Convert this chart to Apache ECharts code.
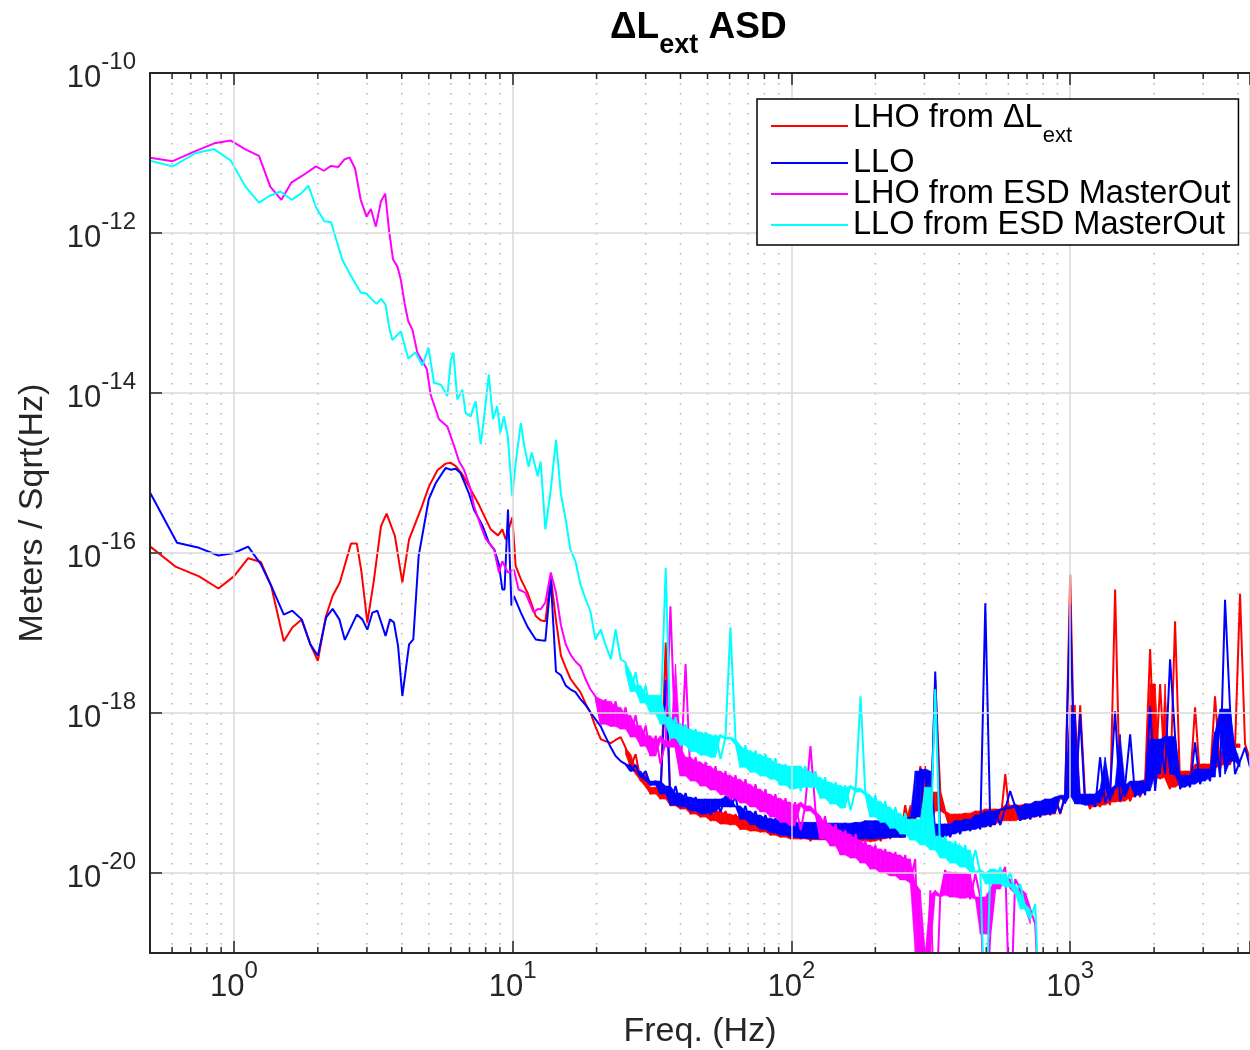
<!DOCTYPE html>
<html><head><meta charset="utf-8">
<script src="https://cdn.jsdelivr.net/npm/echarts@6/dist/echarts.min.js"></script>
<style>html,body{margin:0;padding:0;background:#fff}#c{width:1250px;height:1050px}</style>
</head><body><div id="c"></div>
<script>
const FONT = '"Liberation Sans", Arial, Helvetica, sans-serif';
const X_MIN = 0.5, X_MAX = 4416, Y_MIN = 1e-21, Y_MAX = 1e-10;

const xTickValues = [1, 10, 100, 1000];
const xTickExps = ['0', '1', '2', '3'];
const yTickValues = [1e-20, 1e-18, 1e-16, 1e-14, 1e-12, 1e-10];
const yTickExps = ['-20', '-18', '-16', '-14', '-12', '-10'];
const xMinorValues = [0.6,0.7,0.8,0.9,2,3,4,5,6,7,8,9,20,30,40,50,60,70,80,90,200,300,400,500,600,700,800,900,2000,3000,4000];

const seriesNames = ['LHO from ΔLext', 'LLO', 'LHO from ESD MasterOut', 'LLO from ESD MasterOut'];
const seriesColors = ['#ff0000', '#0000ff', '#ff00ff', '#00ffff'];

const redLow = [[0.5,1.21e-16],[0.62,6.7e-17],[0.75,5.1e-17],[0.88,3.6e-17],[1.0,5.1e-17],[1.125,8.6e-17],[1.25,7.7e-17],[1.36,3.9e-17],[1.51,7.9e-18],[1.62,1.17e-17],[1.75,1.48e-17],[1.88,7.2e-18],[2.0,4.5e-18],[2.14,1.63e-17],[2.26,2.9e-17],[2.4,4.3e-17],[2.63,1.31e-16],[2.76,1.31e-16],[2.87,5.7e-17],[3.01,1.35e-17],[3.17,4.3e-17],[3.37,2.17e-16],[3.53,3.1e-16],[3.78,1.63e-16],[4.02,4.3e-17],[4.25,1.48e-16],[4.68,3.5e-16],[5.01,6.8e-16],[5.37,1.08e-15],[5.75,1.31e-15],[6.0,1.34e-15],[6.25,1.22e-15],[6.6,9.6e-16],[7.07,6.2e-16],[7.57,4.0e-16],[8.34,1.97e-16],[8.86,1.66e-16],[9.18,1.97e-16],[9.44,1.48e-16],[9.97,2.8e-16],[10.25,6.9e-17],[10.7,4.7e-17],[11.3,3.2e-17],[12.1,1.63e-17]];
const blueLow = [[0.5,5.7e-16],[0.625,1.34e-16],[0.75,1.16e-16],[0.88,9.3e-17],[1.0,1.0e-16],[1.125,1.2e-16],[1.25,7.2e-17],[1.36,3.9e-17],[1.51,1.7e-17],[1.62,1.9e-17],[1.75,1.48e-17],[1.88,7.2e-18],[2.0,5.2e-18],[2.14,1.56e-17],[2.26,2.0e-17],[2.39,1.48e-17],[2.5,8.2e-18],[2.76,1.7e-17],[2.89,1.48e-17],[3.01,1.1e-17],[3.14,1.8e-17],[3.27,1.9e-17],[3.5,9.2e-18],[3.63,1.48e-17],[3.75,1.35e-17],[3.88,6.9e-18],[4.02,1.63e-18],[4.25,7.2e-18],[4.4,8.3e-18],[4.6,9.2e-17],[5.0,4.7e-16],[5.3,7.5e-16],[5.75,1.16e-15],[6.0,1.1e-15],[6.25,1.13e-15],[6.5,1.0e-15],[6.95,5.7e-16],[7.26,3.5e-16],[7.79,2.2e-16],[8.22,1.34e-16],[8.6,1.1e-16],[8.93,7.1e-17],[9.18,3.5e-17],[9.35,3.5e-17],[9.62,3.5e-16],[9.9,2.2e-17],[10.1,2.9e-17],[10.7,1.8e-17],[11.3,1.2e-17],[12.1,8.3e-18]];
const magLow = [[0.5,8.7e-12],[0.603,7.9e-12],[0.72,1.04e-11],[0.85,1.32e-11],[0.975,1.43e-11],[1.10,1.11e-11],[1.23,9.2e-12],[1.35,3.8e-12],[1.48,2.6e-12],[1.61,4.3e-12],[1.76,5.2e-12],[1.97,6.8e-12],[2.10,6.0e-12],[2.23,6.9e-12],[2.37,6.7e-12],[2.49,8.3e-12],[2.60,8.8e-12],[2.72,6.4e-12],[2.85,2.6e-12],[2.99,1.6e-12],[3.10,2.0e-12],[3.23,1.2e-12],[3.37,2.5e-12],[3.49,3.1e-12],[3.6,1.09e-12],[3.72,4.7e-13],[3.86,3.8e-13],[3.97,2.6e-13],[4.1,1.3e-13],[4.22,7.9e-14],[4.37,6.2e-14],[4.55,3.2e-14],[4.92,2.0e-14],[5.08,9.5e-15],[5.44,4.7e-15],[5.83,3.8e-15],[6.16,2.2e-15],[6.42,1.4e-15],[6.69,1.1e-15],[7.07,6.2e-16],[7.26,3.9e-16],[7.68,2.2e-16],[8.0,1.5e-16],[8.57,1.11e-16],[8.93,5.7e-17],[9.18,7.9e-17],[9.6,5.7e-17],[10.1,6.2e-17],[10.5,3.5e-17],[11.1,3.2e-17],[11.9,1.8e-17],[12.3,2.0e-17]];
const cyanLow = [[0.5,8.0e-12],[0.603,6.8e-12],[0.73,1.0e-11],[0.85,1.12e-11],[0.975,8.0e-12],[1.10,3.8e-12],[1.23,2.4e-12],[1.34,2.9e-12],[1.47,3.3e-12],[1.61,2.6e-12],[1.74,3.1e-12],[1.85,3.9e-12],[1.97,2.1e-12],[2.11,1.4e-12],[2.23,1.37e-12],[2.29,1.0e-12],[2.45,4.6e-13],[2.63,2.9e-13],[2.85,1.8e-13],[2.99,1.75e-13],[3.11,1.5e-13],[3.25,1.3e-13],[3.37,1.5e-13],[3.5,1.27e-13],[3.6,6.8e-14],[3.7,4.6e-14],[3.97,5.9e-14],[4.22,2.7e-14],[4.48,3.2e-14],[4.74,2.2e-14],[4.99,3.7e-14],[5.22,1.34e-14],[5.53,1.27e-14],[5.83,9.1e-15],[6.0,2.6e-14],[6.13,3.2e-14],[6.33,8.3e-15],[6.6,1.1e-14],[6.78,5.6e-15],[7.07,5.1e-15],[7.36,7.9e-15],[7.68,2.3e-15],[7.86,4.3e-15],[8.21,1.7e-14],[8.5,4.7e-15],[8.8,6.8e-15],[9.04,3.2e-15],[9.3,5.1e-15],[9.6,2.9e-15],[9.97,5.1e-16],[10.25,1.34e-15],[10.7,4.2e-15],[11.0,2.2e-15],[11.4,1.2e-15],[11.7,1.8e-15],[12.3,9.1e-16]];

const fHi = [12.6,13.1,13.7,14.3,14.9,15.5,16.1,16.8,17.5,18.3,
19.0,19.8,20.7,21.5,22.5,23.4,24.4,25.4,26.5,27.6,
28.8,30.0,31.2,32.6,33.9,35.4,36.8,38.4,40.0,41.7,
43.5,45.3,47.2,49.2,51.3,53.4,55.7,58.0,60.4,63.0,
65.6,68.4,71.3,74.3,77.4,80.7,84.1,87.6,91.3,95.2,
99.2,103,108,112,117,122,127,132,138,144,
150,156,163,170,177,184,192,200,209,217,
226,236,246,256,267,278,290,302,315,328,
342,356,371,387,403,420,438,457,476,496,
517,538,561,585,609,635,662,690,719,749,
781,813,848,883,921,959,1000,1042,1086,1131,
1179,1229,1280,1335,1391,1449,1510,1574,1641,1710,
1782,1857,1935,2017,2102,2190,2282,2378,2479,2583,
2692,2805,2923,3047,3175,3308,3448,3593,3745,3902,
4067,4238,4416];

const redHi = [1.44e-17,1.4e-17,5.1e-17,1.44e-17,5.2e-18,3.7e-18,2.7e-18,2.2e-18,1.82e-18,1.29e-18,
1.02e-18,6.8e-19,4.7e-19,4.45e-19,4.2e-19,4.6e-19,5.0e-19,3.7e-19,2.1e-19,3.06e-19,
1.41e-19,1.72e-19,9.7e-20,1.18e-19,8.4e-20,7.6e-18,6.9e-20,9.7e-20,6.3e-20,8.4e-20,
5.45e-20,7.3e-20,5.0e-20,6.7e-20,4.5e-20,6.3e-20,4.1e-20,5.95e-20,4.0e-20,5.45e-20,
3.5e-20,5.15e-20,3.35e-20,4.7e-20,3.25e-20,4.5e-20,2.97e-20,4.2e-20,2.8e-20,4.1e-20,
2.66e-20,4.0e-20,2.66e-20,3.9e-20,2.5e-20,3.75e-20,2.6e-20,3.9e-20,2.5e-20,3.75e-20,
2.44e-20,3.75e-20,2.5e-20,3.9e-20,2.5e-20,3.75e-20,2.44e-20,4.0e-20,2.5e-20,4.2e-20,
2.66e-20,4.5e-20,2.8e-20,7.06e-20,2.8e-20,4.5e-20,2.17e-19,3.5e-20,2.8e-20,2.6e-18,
1.03e-19,5.95e-20,3.5e-20,5.45e-20,3.35e-20,5.6e-20,3.5e-20,5.95e-20,3.75e-20,6.3e-20,
3.75e-20,6.3e-20,4.0e-20,1.72e-19,4.5e-20,7.06e-20,4.5e-20,7.3e-20,4.7e-20,7.7e-20,
5.0e-20,7.9e-20,5.3e-20,8.4e-20,5.45e-20,8.9e-20,5.4e-17,8.4e-20,1.25e-18,9.2e-20,
6.3e-20,9.7e-20,6.7e-20,1.06e-19,7.06e-20,3.5e-17,7.7e-20,1.18e-19,7.9e-20,1.29e-19,
8.9e-20,1.41e-19,6.3e-18,1.49e-19,2.3e-18,1.58e-19,1.12e-19,1.4e-17,1.18e-19,1.88e-19,
1.29e-19,1.18e-18,1.49e-19,2.3e-19,1.58e-19,1.62e-18,1.99e-19,3.3e-19,2.25e-19,3.7e-19,
3.1e-17,4.1e-19,2.65e-19];

const blueHi = [8.1e-18,8.0e-18,4.7e-17,3.3e-18,2.96e-18,2.2e-18,1.98e-18,1.82e-18,1.49e-18,1.25e-18,
1.02e-18,8.4e-19,6.8e-19,5.1e-19,3.7e-19,2.9e-19,2.5e-19,2.3e-19,1.88e-19,2.25e-19,
1.58e-19,1.88e-19,1.25e-19,1.41e-19,9.7e-20,2.6e-18,7.06e-20,1.22e-19,6.7e-20,1.0e-19,
5.95e-20,8.9e-20,5.45e-20,8.4e-20,5.3e-20,8.4e-20,5.8e-20,9.2e-20,6.7e-20,8.9e-20,
4.7e-20,6.9e-20,4.0e-20,5.95e-20,3.5e-20,5.3e-20,3.16e-20,4.85e-20,2.97e-20,4.6e-20,
2.8e-20,4.5e-20,2.73e-20,4.3e-20,2.66e-20,4.3e-20,2.66e-20,4.3e-20,2.58e-20,4.2e-20,
2.58e-20,4.2e-20,2.58e-20,4.3e-20,2.66e-20,4.5e-20,2.66e-20,4.5e-20,2.66e-20,4.6e-20,
2.73e-20,4.7e-20,2.8e-20,4.85e-20,2.8e-20,5.0e-20,1.99e-19,1.88e-19,2.66e-20,3.3e-18,
2.66e-20,4.1e-20,2.8e-20,4.5e-20,3.07e-20,4.7e-20,3.35e-20,5.3e-20,3.5e-20,2.35e-17,
3.75e-20,5.95e-20,4.0e-20,6.3e-20,1.06e-19,6.7e-20,4.5e-20,7.3e-20,4.7e-20,7.9e-20,
5.0e-20,8.4e-20,5.3e-20,8.9e-20,5.6e-20,9.4e-20,2.3e-17,7.3e-20,9.7e-19,7.06e-20,
9.7e-20,6.7e-20,2.8e-19,7.5e-20,1.12e-19,1.05e-18,7.9e-20,1.25e-19,5.4e-19,8.9e-20,
1.41e-19,9.4e-20,1.21e-18,1.06e-19,4.7e-19,1.72e-19,4.7e-18,5.1e-19,1.12e-19,1.67e-19,
1.18e-19,4.3e-19,1.29e-19,1.99e-19,1.41e-19,5.8e-19,1.58e-19,2.6e-17,1.12e-18,1.72e-19,
2.5e-19,3.7e-19,2.1e-19];

const magHi = [1.98e-17,2.4e-17,5.7e-17,3.2e-17,1.25e-17,7.2e-18,5.4e-18,4.4e-18,3.85e-18,2.6e-18,1.98e-18,
1.62e-18,7.25e-19,1.49e-18,6.8e-19,1.4e-18,6.3e-19,1.18e-18,5.0e-19,9.4e-19,3.85e-19,
7.0e-19,2.9e-19,5.2e-19,2.3e-19,4.45e-19,2.15e-17,3.74e-19,1.63e-19,4.1e-18,1.41e-19,
2.8e-19,1.22e-19,2.45e-19,1.09e-19,2.17e-19,9.5e-20,1.88e-19,8.4e-20,1.67e-19,7.5e-20,
1.49e-19,6.7e-20,1.29e-19,5.8e-20,1.12e-19,5.0e-20,9.7e-20,4.3e-20,8.6e-20,3.9e-20,
7.7e-20,3.44e-20,6.9e-20,3.85e-19,5.95e-20,2.66e-20,5.15e-20,2.17e-20,4.1e-20,1.68e-20,
3.44e-20,1.54e-20,3.07e-20,1.33e-20,2.58e-20,1.12e-20,2.24e-20,1.0e-20,2.0e-20,9.2e-21,
1.83e-20,8.2e-21,1.68e-20,7.5e-21,1.5e-20,1e-22,1e-22,6.1e-21,1e-22,5.3e-21,
1.09e-20,5.0e-21,1.03e-20,4.85e-21,1.0e-20,4.7e-21,9.7e-21,5.0e-21,1e-22,1.73e-21,
6.3e-21,8.9e-21,1.19e-20,1e-22,8.4e-21,6.3e-21,5.5e-21,3.55e-21,2.3e-21,1e-22];

const cyanHi = [1.39e-15,1.97e-16,6.2e-16,2.6e-15,5.4e-16,2.6e-16,1.11e-16,7.9e-17,4.05e-17,2.6e-17,1.87e-17,8.3e-18,1.11e-17,7.2e-18,4.7e-18,1.11e-17,4.7e-18,
4.3e-18,1.86e-18,3.24e-18,1.33e-18,2.22e-18,9.7e-19,1.67e-18,7.25e-19,6.5e-17,4.85e-19,
8.9e-19,3.95e-19,7.25e-19,3.3e-19,6.3e-19,2.97e-19,5.8e-19,2.8e-19,5.4e-19,2.65e-19,
5.0e-19,1.18e-17,4.7e-19,2.1e-19,3.95e-19,1.82e-19,3.4e-19,1.63e-19,3.06e-19,1.49e-19,
2.73e-19,1.25e-19,2.3e-19,1.12e-19,2.17e-19,1.06e-19,2.17e-19,1.18e-19,1.88e-19,8.6e-20,
1.58e-19,7.3e-20,1.37e-19,6.5e-20,1.25e-19,6.1e-20,1.15e-19,1.62e-18,1.03e-19,5.0e-20,
9.4e-20,4.3e-20,7.9e-20,3.63e-20,6.7e-20,3.07e-20,5.6e-20,2.58e-20,4.7e-20,2.24e-20,
1.18e-19,1.94e-20,1.98e-18,1.54e-20,2.9e-20,1.33e-20,2.5e-20,1.19e-20,2.24e-20,1.03e-20,
1.94e-20,1.0e-20,1e-22,1.12e-20,7.3e-21,1.19e-20,6.7e-21,1.03e-20,5.5e-21,7.3e-21,
3.55e-21,2.66e-21,4.1e-21,1e-22];

// index in the high-frequency arrays where each trace becomes a noisy band
const bandStart = [17, 17, 11, 17];

function buildData(low, hi) {
  const out = low.slice();
  for (let i = 0; i < hi.length && i < fHi.length; i++) out.push([fHi[i], hi[i]]);
  return out;
}
const hiArrays = [redHi, blueHi, magHi, cyanHi];
const lowArrays = [redLow, blueLow, magLow, cyanLow];

// inner envelope of each noisy trace, built from the same values, drawn as a filled band
function bandItems(hi, start) {
  const env = [];
  for (let i = Math.max(start, 1); i < hi.length - 2; i++) {
    const w = [hi[i - 1], hi[i], hi[i + 1], hi[i + 2]].sort((a, b) => a - b);
    env.push([fHi[i], w[1], w[2]]);
  }
  const items = [];
  for (let j = 0; j < env.length - 1; j++) items.push(env[j].concat(env[j + 1]));
  return items;
}
const clampY = v => Math.min(Math.max(v, Y_MIN), Y_MAX);
function bandSeries(hi, start, color, z) {
  return {
    type: 'custom', silent: true, z: z, animation: false,
    data: bandItems(hi, start), encode: { x: [0, 3], y: [1, 2, 4, 5] },
    renderItem: (params, api) => {
      const a = api.coord([api.value(0), clampY(api.value(1))]);
      const b = api.coord([api.value(3), clampY(api.value(4))]);
      const c = api.coord([api.value(3), clampY(api.value(5))]);
      const d = api.coord([api.value(0), clampY(api.value(2))]);
      return { type: 'polygon', z2: 0, shape: { points: [a, b, c, d] }, style: { fill: color, stroke: color, lineWidth: 0.6 } };
    }
  };
}

function expLabel(v, vals, exps) {
  const lv = Math.log10(v);
  for (let i = 0; i < vals.length; i++) {
    if (Math.abs(Math.log10(vals[i]) - lv) < 1e-6) return '{b|10}{s|' + exps[i] + '}';
  }
  return '';
}
const labelRich = {
  b: { fontSize: 31, lineHeight: 40, fontFamily: FONT, color: '#262626' },
  s: { fontSize: 24, height: 8, lineHeight: 8, verticalAlign: 'top', fontFamily: FONT, color: '#262626' }
};

const chart = echarts.init(document.getElementById('c'), null, { renderer: 'canvas' });

let dataSeries = [];
seriesNames.forEach((name, i) => {
  dataSeries.push(bandSeries(hiArrays[i], bandStart[i], seriesColors[i], 3 + 2 * i));
  dataSeries.push({
    name: name, type: 'line', data: buildData(lowArrays[i], hiArrays[i]), showSymbol: false, symbol: 'none',
    animation: false, z: 4 + 2 * i, clip: true, silent: true,
    lineStyle: { width: 2, color: seriesColors[i] }, itemStyle: { color: seriesColors[i] },
    emphasis: { disabled: true }
  });
});

const option = {
  animation: false,
  backgroundColor: '#fff',
  title: {
    text: '{d|ΔL}{e|ext}{d| ASD}',
    left: 610, top: 10, padding: 0,
    textStyle: {
      rich: {
        d: { fontSize: 37, fontWeight: 'bold', fontFamily: FONT, color: '#000', height: 36, lineHeight: 36, verticalAlign: 'top' },
        e: { fontSize: 27, fontWeight: 'bold', fontFamily: FONT, color: '#000', height: 20, lineHeight: 36, padding: [26, 0, 0, 0], verticalAlign: 'top' }
      }
    }
  },
  legend: {
    data: seriesNames, orient: 'vertical', left: 757, top: 99, z: 30,
    padding: [2.5, 8, 3.5, 14], itemGap: -2, itemWidth: 77, itemHeight: 2, icon: 'rect',
    backgroundColor: '#fff', borderColor: '#000', borderWidth: 1.5, borderRadius: 0,
    selectedMode: false,
    formatter: name => name === seriesNames[0] ? '{m1|LHO from ΔL}{u|ext}' : '{m|' + name + '}',
    textStyle: {
      fontSize: 32.5, fontFamily: FONT, color: '#000',
      rich: {
        m: { fontSize: 32.5, fontFamily: FONT, color: '#000', height: 31, lineHeight: 31 },
        m1: { fontSize: 32.5, fontFamily: FONT, color: '#000', height: 29, lineHeight: 45, verticalAlign: 'top' },
        u: { fontSize: 22, fontFamily: FONT, color: '#000', height: 25, lineHeight: 45, padding: [20, 0, 0, 0], verticalAlign: 'top' }
      }
    }
  },
  grid: { left: 150, right: 0, top: 73, bottom: 97, containLabel: false, outerBoundsMode: 'none' },
  xAxis: [
    {
      type: 'log', logBase: 10, min: X_MIN, max: X_MAX, position: 'bottom', z: 20,
      name: 'Freq. (Hz)', nameLocation: 'middle', nameGap: 62, nameMoveOverlap: false,
      nameTextStyle: { fontSize: 34, color: '#262626', fontFamily: FONT },
      axisLine: { show: true, onZero: false, lineStyle: { color: '#262626', width: 2 } },
      axisTick: { show: true, inside: true, length: 12, lineStyle: { color: '#262626', width: 1.5 } },
      axisLabel: { margin: 14, formatter: v => expLabel(v, xTickValues, xTickExps), rich: labelRich },
      splitLine: { show: true, lineStyle: { color: '#d9d9d9', width: 1.5 } },
      minorTick: { show: false }, minorSplitLine: { show: false }
    },
    {
      type: 'log', logBase: 10, min: X_MIN, max: X_MAX, position: 'top', z: 20,
      axisLine: { show: true, onZero: false, lineStyle: { color: '#262626', width: 2 } },
      axisTick: { show: true, inside: true, length: 12, lineStyle: { color: '#262626', width: 1.5 } },
      axisLabel: { show: false }, splitLine: { show: false }
    }
  ],
  yAxis: {
    type: 'log', logBase: 10, min: Y_MIN, max: Y_MAX, interval: 1, z: 20,
    name: 'Meters / Sqrt(Hz)', nameLocation: 'middle', nameGap: 100, nameRotate: 90, nameMoveOverlap: false,
    nameTextStyle: { fontSize: 34, color: '#262626', fontFamily: FONT },
    axisLine: { show: true, onZero: false, lineStyle: { color: '#262626', width: 2 } },
    axisTick: { show: false },
    axisLabel: { margin: 14, padding: [10, 0, 0, 0], formatter: v => expLabel(v, yTickValues, yTickExps), rich: labelRich },
    splitLine: { show: true, lineStyle: { color: ['rgba(0,0,0,0)', '#d9d9d9'], width: 1.5 } }
  },
  series: [
    {
      type: 'custom', silent: true, z: 1, clip: false, animation: false,
      data: xMinorValues.map(v => [v, Y_MIN]), encode: { x: 0, y: 1 },
      renderItem: (params, api) => {
        const x = api.value(0);
        const top = api.coord([x, Y_MAX]);
        const bot = api.coord([x, Y_MIN]);
        return {
          type: 'group', children: [
            { type: 'line', shape: { x1: top[0], y1: top[1], x2: bot[0], y2: bot[1] }, style: { stroke: '#b0b0b0', lineWidth: 1.5, lineDash: [1.5, 8.5] } },
            { type: 'line', shape: { x1: bot[0], y1: bot[1], x2: bot[0], y2: bot[1] - 6 }, style: { stroke: '#262626', lineWidth: 1.5 } },
            { type: 'line', shape: { x1: top[0], y1: top[1], x2: top[0], y2: top[1] + 6 }, style: { stroke: '#262626', lineWidth: 1.5 } }
          ]
        };
      }
    },
    {
      type: 'custom', silent: true, z: 21, clip: false, animation: false,
      data: yTickValues.map(v => [X_MIN, v]), encode: { x: 0, y: 1 },
      renderItem: (params, api) => {
        const p = api.coord([X_MIN, api.value(1)]);
        return { type: 'line', shape: { x1: p[0], y1: p[1], x2: p[0] + 12, y2: p[1] }, style: { stroke: '#262626', lineWidth: 1.5 } };
      }
    }
  ].concat(dataSeries)
};
chart.setOption(option);
</script>
</body></html>
